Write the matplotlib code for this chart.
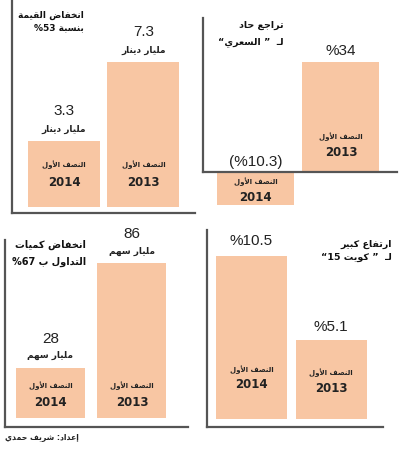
import matplotlib
matplotlib.use('Agg')
import matplotlib.pyplot as plt
from matplotlib import font_manager

# Arabic text has to be shaped by hand: matplotlib has no shaping / bidi.
FORMS = {
    'ا': (0xFE8D, 0xFE8E, None, None),
    'أ': (0xFE83, 0xFE84, None, None),
    'إ': (0xFE87, 0xFE88, None, None),
    'ب': (0xFE8F, 0xFE90, 0xFE91, 0xFE92),
    'ة': (0xFE93, 0xFE94, None, None),
    'ت': (0xFE95, 0xFE96, 0xFE97, 0xFE98),
    'ج': (0xFE9D, 0xFE9E, 0xFE9F, 0xFEA0),
    'ح': (0xFEA1, 0xFEA2, 0xFEA3, 0xFEA4),
    'خ': (0xFEA5, 0xFEA6, 0xFEA7, 0xFEA8),
    'د': (0xFEA9, 0xFEAA, None, None),
    'ر': (0xFEAD, 0xFEAE, None, None),
    'س': (0xFEB1, 0xFEB2, 0xFEB3, 0xFEB4),
    'ش': (0xFEB5, 0xFEB6, 0xFEB7, 0xFEB8),
    'ص': (0xFEB9, 0xFEBA, 0xFEBB, 0xFEBC),
    'ض': (0xFEBD, 0xFEBE, 0xFEBF, 0xFEC0),
    'ع': (0xFEC9, 0xFECA, 0xFECB, 0xFECC),
    'ف': (0xFED1, 0xFED2, 0xFED3, 0xFED4),
    'ق': (0xFED5, 0xFED6, 0xFED7, 0xFED8),
    'ك': (0xFED9, 0xFEDA, 0xFEDB, 0xFEDC),
    'ل': (0xFEDD, 0xFEDE, 0xFEDF, 0xFEE0),
    'م': (0xFEE1, 0xFEE2, 0xFEE3, 0xFEE4),
    'ن': (0xFEE5, 0xFEE6, 0xFEE7, 0xFEE8),
    'ه': (0xFEE9, 0xFEEA, 0xFEEB, 0xFEEC),
    'و': (0xFEED, 0xFEEE, None, None),
    'ي': (0xFEF1, 0xFEF2, 0xFEF3, 0xFEF4),
    'ـ': (0x0640, 0x0640, 0x0640, 0x0640),
}
LAM_ALEF = {'ا': (0xFEFB, 0xFEFC), 'أ': (0xFEF7, 0xFEF8), 'إ': (0xFEF9, 0xFEFA)}


def ar(text):
    units = []
    i = 0
    while i < len(text):
        c = text[i]
        if c == 'ل' and i + 1 < len(text) and text[i + 1] in LAM_ALEF:
            iso, fin = LAM_ALEF[text[i + 1]]
            units.append((iso, fin, None, None))
            i += 2
        elif c in FORMS:
            units.append(FORMS[c])
            i += 1
        else:
            units.append(c)
            i += 1
    out = []
    for k, u in enumerate(units):
        if isinstance(u, str):
            out.append(u)
            continue
        prev = units[k - 1] if k > 0 else None
        nxt = units[k + 1] if k + 1 < len(units) else None
        jp = prev is not None and not isinstance(prev, str) and prev[2] is not None
        jn = nxt is not None and not isinstance(nxt, str) and u[2] is not None
        if jp and jn:
            cp = u[3]
        elif jp:
            cp = u[1]
        elif jn:
            cp = u[2]
        else:
            cp = u[0]
        out.append(chr(cp))
    return ''.join(out)[::-1]


# data
years = ['2014', '2013']
value_bn = [3.3, 7.3]          # billion dinar
sari_pct = [-10.3, 34]         # السعري change %
volume_bn = [28, 86]           # billion shares
kw15_pct = [10.5, 5.1]         # كويت 15 change %

value_labels = ['3.3', '7.3']
sari_labels = ['(%10.3)', '%34']
volume_labels = ['28', '86']
kw15_labels = ['%10.5', '%5.1']

half = ar('النصف الأول')
unit_dinar = ar('مليار دينار')
unit_shares = ar('مليار سهم')

BAR = '#F8C6A3'
SPINE = '#555555'
TXT = '#222222'
AR_FONT = ['DejaVu Sans']

# condensed face for the big numbers if there is one
try:
    font_manager.findfont('Liberation Sans Narrow', fallback_to_default=False)
    NUM_FONT = ['Liberation Sans Narrow', 'DejaVu Sans']
    NUM_SIZE = 12
except Exception:
    NUM_FONT = ['Liberation Sans', 'DejaVu Sans']
    NUM_SIZE = 11

W, H = 402, 450
fig = plt.figure(figsize=(W / 100, H / 100), dpi=100)
fig.patch.set_facecolor('white')


def panel(vals, spine_x, spine_top, axis_y, right_x, base_y, top_px, centers, width, box_bottom=None):
    bottom_px = box_bottom if box_bottom else axis_y
    ax = fig.add_axes([spine_x / W, 1 - bottom_px / H, (right_x - spine_x) / W, (bottom_px - spine_top) / H])
    s = (base_y - top_px) / max(vals)
    ax.set_ylim((base_y - bottom_px) / s, (base_y - spine_top) / s)
    dx = centers[1] - centers[0]
    ax.set_xlim((spine_x - centers[0]) / dx, (right_x - centers[0]) / dx)
    ax.bar(range(len(vals)), vals, width=width / dx, color=BAR, linewidth=0)
    for side in ['top', 'right']:
        ax.spines[side].set_visible(False)
    for side in ['left', 'bottom']:
        ax.spines[side].set_color(SPINE)
        ax.spines[side].set_linewidth(1.6)
    if box_bottom:
        ax.spines['bottom'].set_position(('data', 0))
        ax.spines['left'].set_bounds(0, ax.get_ylim()[1])
    ax.set_xticks([])
    ax.set_yticks([])
    ax.patch.set_alpha(0)
    return ax


def put(ax, x, y, txt, dy_px, size, font, weight='bold'):
    ax.annotate(txt, (x, y), xytext=(0, dy_px * 0.72), textcoords='offset points',
                ha='center', va='center', fontsize=size, family=font,
                fontweight=weight, color=TXT, annotation_clip=False)


def inside(ax, x, y, year, dy1, dy2, s1=5, s2=8.5):
    put(ax, x, y, half, dy1, s1, AR_FONT)
    put(ax, x, y, year, dy2, s2, AR_FONT)


# panel 1: traded value
ax1 = panel(value_bn, 12, 0, 213, 195, 207, 62, [64, 143.5], 72)
for i, v in enumerate(value_bn):
    put(ax1, i, v, value_labels[i], 30, NUM_SIZE, NUM_FONT, 'normal')
    put(ax1, i, v, unit_dinar, 12, 6.5, AR_FONT)
    inside(ax1, i, 0, years[i], 42, 25)

# panel 2: السعري index
ax2 = panel(sari_pct, 203, 18, 172, 397, 172, 62, [255.5, 341], 77, box_bottom=207)
put(ax2, 0, 0, sari_labels[0], 10, NUM_SIZE, NUM_FONT, 'normal')
put(ax2, 1, sari_pct[1], sari_labels[1], 11, NUM_SIZE, NUM_FONT, 'normal')
inside(ax2, 0, sari_pct[0], years[0], 24, 8)
inside(ax2, 1, 0, years[1], 35, 20)

# panel 3: traded volume
ax3 = panel(volume_bn, 5, 240, 427, 188, 418, 263, [50.5, 132], 69)
for i, v in enumerate(volume_bn):
    put(ax3, i, v, volume_labels[i], 29, NUM_SIZE, NUM_FONT, 'normal')
    put(ax3, i, v, unit_shares, 12, 6.5, AR_FONT)
    inside(ax3, i, 0, years[i], 32, 16)

# panel 4: كويت 15 index
ax4 = panel(kw15_pct, 207, 230, 427, 383, 419, 256, [251.5, 331], 71)
put(ax4, 0, kw15_pct[0], kw15_labels[0], 15, NUM_SIZE, NUM_FONT, 'normal')
put(ax4, 1, kw15_pct[1], kw15_labels[1], 13, NUM_SIZE, NUM_FONT, 'normal')
inside(ax4, 0, 0, years[0], 49, 34)
inside(ax4, 1, 0, years[1], 46, 31)


def title(x, ys, lines, size):
    for y, line in zip(ys, lines):
        fig.text(x / W, 1 - y / H, line, ha='right', va='center', fontsize=size,
                 family=AR_FONT, fontweight='bold', color='#111111')


title(84, [15, 28], [ar('انخفاض القيمة'), '%53 ' + ar('بنسبة')], 6.5)
title(284, [25, 42], [ar('تراجع حاد'), '“' + ar('السعري') + ' ”  ' + ar('لـ')], 6.8)
title(86, [245, 262], [ar('انخفاض كميات'), '%67 ' + ar('ب') + ' ' + ar('التداول')], 7)
title(392, [244, 257], [ar('ارتفاع كبير'), '“15 ' + ar('كويت') + ' ”  ' + ar('لـ')], 6.8)

fig.text(5 / W, 1 - 438 / H, ar('إعداد: شريف حمدي'),
         ha='left', va='center', fontsize=5.5, family=AR_FONT, fontweight='bold', color=TXT)

fig.savefig('out.png', dpi=100, facecolor='white')
